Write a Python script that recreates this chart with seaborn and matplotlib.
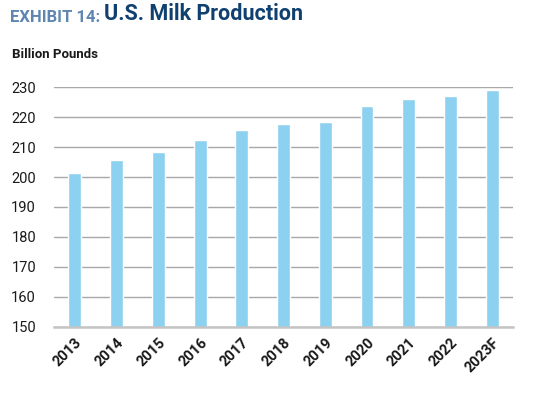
import matplotlib
matplotlib.use("Agg")
import matplotlib.pyplot as plt
import seaborn as sns
import pandas as pd

years = ["2013", "2014", "2015", "2016", "2017", "2018", "2019",
         "2020", "2021", "2022", "2023F"]
production = [201.2, 205.8, 208.5, 212.2, 215.7, 217.6, 218.4,
              223.6, 226.0, 227.0, 229.0]
y_ticks = [150, 160, 170, 180, 190, 200, 210, 220, 230]

df = pd.DataFrame({"year": years, "production": production})

sns.set_style("white")
plt.rcParams["font.family"] = ["Roboto", "DejaVu Sans"]

fig = plt.figure(figsize=(5.39, 3.95), dpi=100)
ax = fig.add_axes([0.1002, 0.1722, 0.8516, 0.6075])

sns.barplot(data=df, x="year", y="production", color="#8dd1f0",
            saturation=1, width=0.31, ax=ax, zorder=3)

ax.set_ylim(150, 230)
ax.set_xlim(-0.5, len(years) - 0.5)
ax.set_yticks(y_ticks)
ax.set_xlabel("")
ax.set_ylabel("")

# gridlines and spines
ax.grid(axis="y", color="#a8a8a8", linewidth=1.0, zorder=0)
ax.grid(axis="x", visible=False)
for side in ["left", "right", "top"]:
    ax.spines[side].set_visible(False)
ax.spines["bottom"].set_color("#c4c4c4")
ax.spines["bottom"].set_linewidth(1.8)
ax.spines["bottom"].set_zorder(4)

ax.tick_params(axis="y", length=0, pad=13, labelsize=10.5, labelcolor="#1a1a1a")
ax.tick_params(axis="x", length=0, pad=6, labelsize=10.5, labelcolor="#1a1a1a")
for lbl in ax.get_xticklabels():
    lbl.set_rotation(45)
    lbl.set_ha("right")
    lbl.set_rotation_mode("anchor")
    lbl.set_fontweight("bold")

# title in two colours
t1 = fig.text(0.018, 0.945, "EXHIBIT 14: ", fontsize=12, fontweight="bold",
              color="#5f86b0", va="baseline", ha="left")
ax.annotate("U.S. Milk Production", xy=(1, 0), xycoords=t1,
            fontsize=15.5, fontweight="bold", color="#10406f",
            va="bottom", ha="left")

fig.text(0.022, 0.853, "Billion Pounds", fontsize=9.5, fontweight="bold",
         color="#1a1a1a", va="baseline", ha="left")

fig.savefig("out.png", dpi=100)
